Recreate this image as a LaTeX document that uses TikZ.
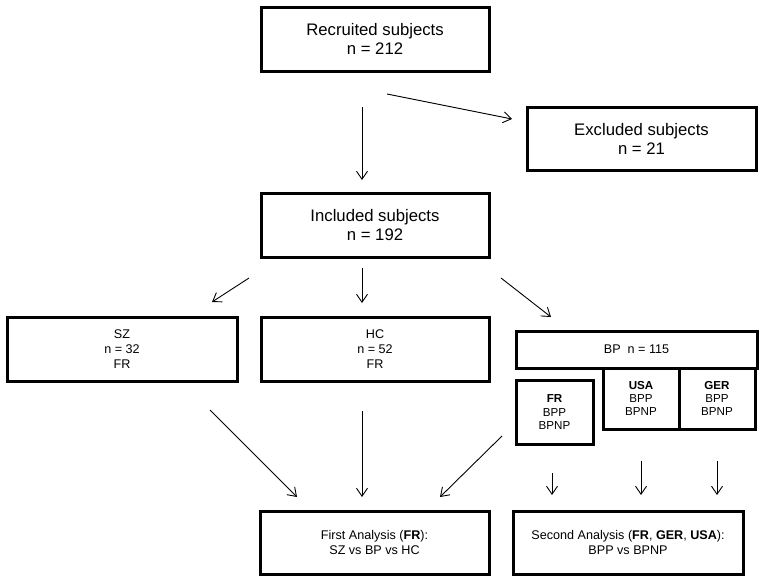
\documentclass[tikz,border=0pt]{standalone}
\usepackage{fontspec}
\setmainfont{Liberation Sans}
\usetikzlibrary{arrows.meta}

\begin{document}
\begin{tikzpicture}[x=1pt,y=-1pt,
    bigbox/.style={draw,line width=3pt,align=center,inner sep=0pt,
        font=\fontsize{16.7}{19}\selectfont},
    smallbox/.style={draw,line width=3pt,align=center,inner sep=0pt,
        font=\fontsize{12.6}{15}\selectfont},
    subbox/.style={draw,line width=3pt,align=center,inner sep=0pt,
        font=\fontsize{11.6}{13.4}\selectfont},
    arr/.style={line width=0.9pt,-{Straight Barb[length=8pt,width=11pt]}}]
    \useasboundingbox (0,0) rectangle (765,582);
    % top part
    \node[bigbox,minimum width=228,minimum height=64] (rec) at (375,39) {Recruited subjects\\n = 212};
    \node[bigbox,minimum width=229,minimum height=63] (excl) at (641.5,138.5) {Excluded subjects\\n = 21};
    \node[bigbox,minimum width=228,minimum height=64] (incl) at (375,225) {Included subjects\\n = 192};
    % groups
    \node[smallbox,minimum width=230,minimum height=64] (sz) at (122,349) {SZ\\n = 32\\FR};
    \node[smallbox,minimum width=228,minimum height=64] (hc) at (375,349) {HC\\n = 52\\FR};
    \node[smallbox,minimum width=241,minimum height=37] (bp) at (636.5,349.5) {BP\ \ n = 115};
    \node[subbox,minimum width=77,minimum height=64] (bpfr) at (554.5,412) {\textbf{FR}\\BPP\\BPNP};
    \node[subbox,minimum width=76,minimum height=61] (usa) at (641,398.5) {\textbf{USA}\\BPP\\BPNP};
    \node[subbox,minimum width=76,minimum height=61] (ger) at (717,398.5) {\textbf{GER}\\BPP\\BPNP};
    % analyses
    \node[smallbox,minimum width=229,minimum height=63] (first) at (374.5,542.5) {First Analysis (\textbf{FR}):\\SZ vs BP vs HC};
    \node[smallbox,minimum width=230,minimum height=63] (second) at (628,542.5) {Second Analysis (\textbf{FR}, \textbf{GER}, \textbf{USA}):\\BPP vs BPNP};
    % free arrow ends
    \coordinate (recA) at (387,94);   \coordinate (exclA) at (512,119);
    \coordinate (recB) at (362,107);  \coordinate (inclB) at (362,180);
    \coordinate (inclL) at (249,278); \coordinate (szT) at (212,302);
    \coordinate (inclM) at (362,268); \coordinate (hcT) at (362,303);
    \coordinate (inclR) at (501,278); \coordinate (bpT) at (551,317);
    \coordinate (szB) at (210,410);   \coordinate (firstL) at (297,497);
    \coordinate (hcB) at (362,411);   \coordinate (firstM) at (362,497);
    \coordinate (bpB) at (502,436);   \coordinate (firstR) at (440,497);
    \coordinate (bpfrB) at (552,473); \coordinate (secondL) at (552,495);
    \coordinate (usaB) at (641,461);  \coordinate (secondM) at (641,495);
    \coordinate (gerB) at (717,461);  \coordinate (secondR) at (717,495);
    \foreach \a/\b in {recA/exclA,recB/inclB,inclL/szT,inclM/hcT,inclR/bpT,
        szB/firstL,hcB/firstM,bpB/firstR,bpfrB/secondL,usaB/secondM,gerB/secondR}
        \draw[arr] (\a) -- (\b);
\end{tikzpicture}
\end{document}
